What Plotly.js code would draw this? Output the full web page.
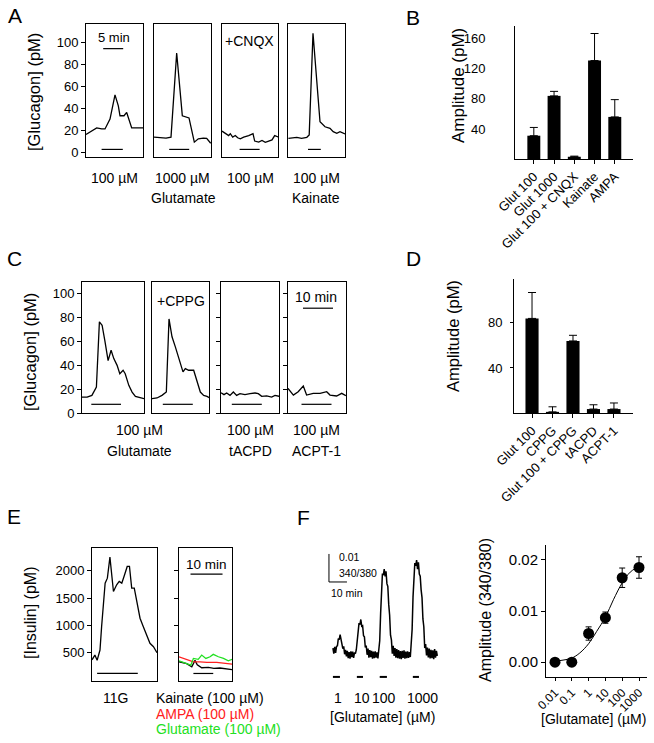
<!DOCTYPE html>
<html><head><meta charset="utf-8">
<script src="https://cdn.plot.ly/plotly-3.0.1.min.js"></script>
<style>html,body{margin:0;padding:0;background:#fff}#chart{width:654px;height:743px}</style>
</head><body><div id="chart"></div>
<script>
// ================= DATA =================
// Panel A – glucagon traces (time, min ; glucagon, pM)
const tA1 = [0,1.42,2.67,3.92,4.75,6,7.25,8.08,8.5,9.5,10.17,11.42,12.67,14.33];
const gA1 = [16,19,22,21,21,30,52,42,33,33,36,22,22,22];
const tA2 = [0,1.5,3,4.25,5.67,7.08,8.17,8.75,10.08,11.08,12.33,13.17,14.17];
const gA2 = [13.6,13,12.7,13.6,90,33,32,31,9,12,12.7,12.4,8];
const tA3 = [0,0.83,1.67,2.08,2.67,3.33,3.92,4.58,5.42,6.67,7.75,8.17,9.17,10,10.83,11.67,12.5,13.17,14.17];
const gA3 = [19,16.7,15,16.7,13.6,15,13,12,13.6,15,16.7,10,9,10.6,8.8,10,11,15,13.6];
const tA4 = [0.1,2.2,3.4,4.7,5.3,6.25,8.0,9.25,10.5,11.3,12.2,13,14.25];
const gA4 = [12.4,13.4,12.4,13.4,15.5,108,27.5,23,21.5,18.5,17,18.5,16.4];
const stimA = [[3.9,9.2],[3.8,8.8],[4.4,9.4],[5.0,8.2]];
const aConc = ['100 µM','1000 µM','100 µM','100 µM'];
const gluTicks = [0,20,40,60,80,100];

// Panel B – amplitudes
const catsB = ['Glut 100','Glut 1000','Glut 100 + CNQX','Kainate','AMPA'];
const ampB  = [31,84,3,131,56];
const errB  = [11,6,0.8,36,23];
const tickB = [40,80,120,160];

// Panel C – glucagon traces
const tC1 = [0,1.7,3.3,4.8,5.8,6.7,7.6,8.7,9.7,10.6,11.7,12.6,13.7,14.4,15.6,16.7,17.8,19.4,20.7];
const gC1 = [13.4,13.4,14.8,21.8,76.5,73.7,61,44,52.7,45.7,40,33,35.9,33,23.2,17.6,14,12.9,12];
const tC2 = [0,1.67,3.33,4.78,5.67,6.67,7.78,8.89,10.33,11.11,12.22,13.89,15,16.11,17.22,18.33,19.22];
const gC2 = [12,12.6,14.8,17.6,79,64,55.5,47,34.5,37.3,35.9,35.9,27.5,17.6,14.8,14,12.6];
const tC3 = [0,1,1.89,3,4.11,5.22,6.33,8,9.67,11.33,12.44,13.56,15.22,16.89,18,19.44];
const gC3 = [17,15.4,16.8,14.8,17.6,14.8,16.2,15.4,16.2,16.8,16.2,14,14.3,13.4,14.8,14];
const tC4 = [0,1.8,3.4,5.1,6.2,8.4,10.7,12.9,14,16.2,17.9,19.3];
const gC4 = [20.7,15,17.9,22.7,15.1,16.5,16.5,17.9,15.1,14.3,16.5,14.5];
const stimC = [[3.1,13],[3.6,13.6],[3.6,13.6],[4.5,14.5]];

// Panel D – amplitudes
const catsD = ['Glut 100','CPPG','Glut 100 + CPPG','tACPD','ACPT-1'];
const ampD  = [84,1,64,3.5,3.5];
const errD  = [23,4.5,5,3.8,5.4];
const tickD = [40,80];

// Panel E – insulin traces
const tE1 = [0,0.9,1.6,2.5,3.0,4.1,4.8,5.6,6.7,7.7,8.5,9.3,10.0,11.0,11.7,12.4,13.2,14.0,15.0,16.0,17.1,18.1,19.2,20.3];
const iE1 = [370,457,360,549,978,1774,1866,2252,1621,1744,1805,1774,1897,2080,2080,1682,1682,1407,1132,979,825,672,611,500];
const tKai = [0,2.4,4.0,5.0,5.7,7.1,9.2,10.9,12.8,14.9,16.6];
const iKai = [335,300,240,360,280,225,230,215,220,200,190];
const tAmpa = [0,2.4,4.5,6.6,8.7,11.8,14.9,16.6];
const iAmpa = [426,383,334,334,322,322,304,292];
const tGlu = [0,2.2,3.7,4.5,6.0,7.1,8.4,9.7,10.7,12.3,13.9,15.4,16.6];
const iGlu = [352,304,273,396,378,457,396,426,470,426,396,352,378];
const stimE = [[1.6,14.3],[4.5,10.7]];
const insTicks = [500,1000,1500,2000];

// Panel F – Ca2+ ratio trace (340/380), sampled every 0.5 min
const fDt = 0.5;
const ratioF = [0.0032,0.0012,0.0036,0.0015,0.0038,
  0.0040,0.0066,0.0062,0.0080,0.0058,0.0052,
  0.0030,0.0038,0.0010,0.0026,0.0002,0.0022,-0.0004,0.0018,-0.0006,0.0020,0.0000,0.0019,-0.0003,0.0016,0.0012,
  0.0026,0.0068,0.0084,0.0121,0.0116,0.0134,0.0110,0.0112,0.0076,0.0072,0.0034,0.0041,
  0.0008,0.0030,-0.0002,0.0025,0.0000,0.0022,-0.0006,0.0019,-0.0004,0.0020,-0.0002,0.0017,-0.0005,0.0021,
  0.0058,0.0155,0.0226,0.0298,0.0292,0.0314,0.0288,0.0306,0.0262,0.0252,0.0188,0.0150,0.0078,0.0061,
  0.0012,0.0040,0.0004,0.0032,-0.0002,0.0028,-0.0004,0.0025,-0.0006,0.0021,-0.0008,0.0022,-0.0003,0.0024,-0.0006,0.0019,-0.0004,0.0020,-0.0003,0.0018,0.0000,0.0036,
  0.0098,0.0214,0.0280,0.0336,0.0326,0.0346,0.0314,0.0338,0.0296,0.0289,0.0240,0.0212,0.0136,0.0108,0.0032,0.0046,
  0.0006,0.0034,-0.0001,0.0030,-0.0005,0.0026,-0.0004,0.0024,-0.0008,0.0028,-0.0002,0.0022,0.0004];
const stimF = [[0,3.9],[13.3,16.7],[26,30],[44.4,47.8]];
const concLabelsF = ['1','10','100','1000'];

// Panel F – dose response
const concF = [0.01,0.1,1,10,100,1000];
const ampF  = [0,0,0.0056,0.0087,0.0165,0.0185];
const errF  = [0,0,0.0013,0.0011,0.0019,0.0021];
const fitX  = [0.01,0.03,0.1,0.3,1,3,10,30,100,300,1000,1500];
const fitY  = [0.0002,0.0004,0.0008,0.0018,0.0036,0.006,0.0088,0.0122,0.0155,0.0176,0.0187,0.0189];
const doseTickVals = [0.01,0.1,1,10,100,1000];
const doseTickText = ['0.01','0.1','1','10','100','1000'];

// ================= LAYOUT HELPERS =================
const W = 654, H = 743;
const px = x => x / W, py = y => 1 - y / H;
const FONT = 'Arial, "Liberation Sans", sans-serif';
const traces = [];
const layout = {
  width: W, height: H, margin: {l:0, r:0, t:0, b:0},
  paper_bgcolor: '#fff', plot_bgcolor: 'rgba(0,0,0,0)', showlegend: false,
  font: {family: FONT, color: '#000', size: 13},
  shapes: [], annotations: []
};
const axN = (k, n) => k + 'axis' + (n === 1 ? '' : n);
const ref = (k, n) => k + (n === 1 ? '' : n);

function boxPanel(n, xpx, ypx, xr, yr, yt) {
  layout[axN('x', n)] = {domain: [px(xpx[0]), px(xpx[1])], range: xr, anchor: ref('y', n),
    showline: true, mirror: true, linecolor: '#000', linewidth: 1, ticks: '', showticklabels: false,
    showgrid: false, zeroline: false, fixedrange: true};
  layout[axN('y', n)] = {domain: [py(ypx[1]), py(ypx[0])], range: yr, anchor: ref('x', n),
    showline: true, mirror: true, linecolor: '#000', linewidth: 1, showgrid: false, zeroline: false,
    fixedrange: true, tickmode: 'array', tickvals: yt ? yt.vals : [], ticks: yt ? 'outside' : '',
    ticklen: 4, tickwidth: 1, tickcolor: '#000', showticklabels: !!(yt && yt.labels),
    tickfont: {family: FONT, size: 13, color: '#000'}};
}
function line(n, x, y, color) {
  traces.push({type: 'scatter', mode: 'lines', x: x, y: y, xaxis: ref('x', n), yaxis: ref('y', n),
    line: {color: color || '#000', width: 1.3}, hoverinfo: 'skip'});
}
function hbar(n, x0, x1, y, w) {
  layout.shapes.push({type: 'line', xref: ref('x', n), yref: ref('y', n), x0: x0, x1: x1, y0: y, y1: y,
    line: {color: '#000', width: w || 1.2}});
}
function vbar(n, x, y0, y1) {
  layout.shapes.push({type: 'line', xref: ref('x', n), yref: ref('y', n), x0: x, x1: x, y0: y0, y1: y1,
    line: {color: '#000', width: 1}});
}
function txt(x, y, text, opt) {
  const o = Object.assign({size: 14, color: '#000', xanchor: 'center', angle: 0}, opt || {});
  layout.annotations.push({xref: 'paper', yref: 'paper', x: px(x), y: py(y), text: text, showarrow: false,
    xanchor: o.xanchor, yanchor: 'middle', textangle: o.angle,
    font: {family: FONT, size: o.size, color: o.color}});
}

// ================= PANEL A =================
const boxesA = [[86,143],[154,211],[222,278],[288,345]];
const tracesA = [[tA1,gA1],[tA2,gA2],[tA3,gA3],[tA4,gA4]];
boxesA.forEach((b, i) => {
  const n = i + 1;
  boxPanel(n, b, [24,157], [0, (b[1]-b[0])/4], [-4.5,116.4], i === 0 ? {vals: gluTicks, labels: true} : null);
  line(n, tracesA[i][0], tracesA[i][1]);
  hbar(n, stimA[i][0], stimA[i][1], 2.4);
  txt((b[0]+b[1])/2, 177.5, aConc[i]);
});
hbar(1, 4.3, 9.3, 94);
txt(114, 38, '5 min', {size: 13});
txt(249, 41, '+CNQX', {size: 14});
txt(183, 197.5, 'Glutamate');
txt(316, 197.5, 'Kainate');
txt(34, 92, '[Glucagon] (pM)', {size: 16.5, angle: -90});
txt(15, 15, 'A', {size: 21});

// ================= PANEL B =================
function barPanel(n, xpx, ypx, xr, yr, cats, vals, errs, tvals, yopt) {
  layout[axN('x', n)] = {domain: [px(xpx[0]), px(xpx[1])], type: 'category', range: xr, anchor: ref('y', n),
    showline: true, linecolor: '#000', linewidth: 1, ticks: 'outside', ticklen: 4, tickcolor: '#000',
    tickangle: -45, tickfont: {family: FONT, size: 13, color: '#000'}, showgrid: false, zeroline: false, fixedrange: true};
  layout[axN('y', n)] = Object.assign({domain: [py(ypx[1]), py(ypx[0])], range: yr, anchor: ref('x', n),
    showline: true, linecolor: '#000', linewidth: 1, ticks: 'outside', ticklen: 3, tickcolor: '#000',
    tickmode: 'array', tickvals: tvals, tickfont: {family: FONT, size: 13, color: '#000'},
    showgrid: false, zeroline: false, fixedrange: true}, yopt || {});
  traces.push({type: 'bar', x: cats, y: vals, width: 0.64, xaxis: ref('x', n), yaxis: ref('y', n),
    marker: {color: '#000', line: {width: 0}}, hoverinfo: 'skip',
    error_y: {type: 'data', symmetric: false, array: errs, arrayminus: errs.map(() => 0),
      color: '#000', thickness: 1, width: 4}});
}
barPanel(5, [515,633], [26,159], [-0.93,4.9], [0,177], catsB, ampB, errB, tickB,
  {ticks: '', ticklabelstandoff: 26});
txt(458, 85, 'Amplitude (pM)', {size: 17, angle: -90});
txt(413, 18, 'B', {size: 21});

// ================= PANEL C =================
const boxesC = [[82,144],[152,209],[221,279],[288,346]];
const tracesC = [[tC1,gC1],[tC2,gC2],[tC3,gC3],[tC4,gC4]];
boxesC.forEach((b, i) => {
  const n = 6 + i;
  const yt = i === 0 ? {vals: gluTicks, labels: true} : (i >= 2 ? {vals: gluTicks, labels: false} : null);
  boxPanel(n, b, [282,413], [0, (b[1]-b[0])/3], [0,110], yt);
  line(n, tracesC[i][0], tracesC[i][1]);
  hbar(n, stimC[i][0], stimC[i][1], 7.3);
});
hbar(9, 5, 15, 88);
txt(316, 297, '10 min', {size: 14});
txt(180.5, 301, '+CPPG', {size: 14});
txt(139, 430, '100 µM'); txt(139, 451, 'Glutamate');
txt(250, 430, '100 µM'); txt(250, 451, 'tACPD');
txt(316, 430, '100 µM'); txt(316, 451, 'ACPT-1');
txt(30, 352, '[Glucagon] (pM)', {size: 16.5, angle: -90});
txt(14, 259, 'C', {size: 21});

// ================= PANEL D =================
barPanel(10, [514,633], [279,413], [-0.88,4.93], [0,119], catsD, ampD, errD, tickD,
  {ticklabelstandoff: 5});
txt(453, 336, 'Amplitude (pM)', {size: 16.5, angle: -90});
txt(413, 258, 'D', {size: 21});

// ================= PANEL E =================
boxPanel(11, [92,157], [548,681], [0,20.3], [-18,2418], {vals: insTicks, labels: true});
boxPanel(12, [179,232], [548,681], [0,16.56], [-18,2418], {vals: insTicks, labels: false});
line(11, tE1, iE1);
line(12, tKai, iKai, '#000');
line(12, tAmpa, iAmpa, '#ff2020');
line(12, tGlu, iGlu, '#22e022');
hbar(11, stimE[0][0], stimE[0][1], 120);
hbar(12, stimE[1][0], stimE[1][1], 120);
hbar(12, 3.6, 13.6, 1939);
txt(206, 564, '10 min', {size: 13.5});
txt(115, 697.5, '11G');
txt(154, 697.5, 'Kainate (100 µM)', {xanchor: 'left'});
txt(154, 713.5, 'AMPA (100 µM)', {xanchor: 'left', color: '#ff2020'});
txt(154, 729, 'Glutamate (100 µM)', {xanchor: 'left', color: '#22e022'});
txt(30, 613, '[Insulin] (pM)', {size: 16, angle: -90});
txt(14, 516, 'E', {size: 21});

// ================= PANEL F (trace) =================
layout.xaxis13 = {domain: [px(325), px(442)], range: [-4.4, 60.6], visible: false, anchor: 'y13', fixedrange: true};
layout.yaxis13 = {domain: [py(680), py(545)], range: [-0.0082, 0.04], visible: false, anchor: 'x13', fixedrange: true};
traces.push({type: 'scatter', mode: 'lines', x0: 0, dx: fDt, y: ratioF, xaxis: 'x13', yaxis: 'y13',
  line: {color: '#000', width: 1.5}, hoverinfo: 'skip'});
stimF.forEach(s => hbar(13, s[0], s[1], -0.0071, 2));
vbar(13, -2.2, 0.0268, 0.0368);
hbar(13, -2.2, 7.8, 0.0268, 1);
txt(336.5, 557, '0.01', {size: 10.5, xanchor: 'left'});
txt(336.5, 573, '340/380', {size: 10.5, xanchor: 'left'});
txt(329, 593, '10 min', {size: 10.5, xanchor: 'left'});
const fLabX = [338, 362, 384, 422];
concLabelsF.forEach((c, i) => txt(fLabX[i], 698, c));
txt(382.5, 717, '[Glutamate] (µM)');
txt(303, 517, 'F', {size: 21});

// ================= PANEL F (dose response) =================
layout.xaxis14 = {domain: [px(546), px(647)], type: 'log', range: [-2.536, 3.476], anchor: 'y14',
  showline: true, linecolor: '#000', linewidth: 1, ticks: 'outside', ticklen: 3, tickcolor: '#000',
  tickmode: 'array', tickvals: doseTickVals, ticktext: doseTickText, tickangle: -45,
  tickfont: {family: FONT, size: 12, color: '#000'}, showgrid: false, zeroline: false, fixedrange: true};
layout.yaxis14 = {domain: [py(677), py(545)], range: [-0.0029, 0.0229], anchor: 'x14',
  showline: true, linecolor: '#000', linewidth: 1, ticks: 'outside', ticklen: 4, tickcolor: '#000',
  tickmode: 'array', tickvals: [0, 0.01, 0.02], ticktext: ['0.00','0.01','0.02'],
  tickfont: {family: FONT, size: 15, color: '#000'}, showgrid: false, zeroline: false, fixedrange: true};
traces.push({type: 'scatter', mode: 'lines', x: fitX, y: fitY, xaxis: 'x14', yaxis: 'y14',
  line: {color: '#000', width: 1, shape: 'spline', smoothing: 1}, hoverinfo: 'skip'});
traces.push({type: 'scatter', mode: 'markers', x: concF, y: ampF, xaxis: 'x14', yaxis: 'y14',
  marker: {color: '#000', size: 11}, cliponaxis: false, hoverinfo: 'skip',
  error_y: {type: 'data', array: errF, color: '#000', thickness: 1, width: 3}});
txt(485, 610, 'Amplitude (340/380)', {size: 16, angle: -90});
txt(593, 719, '[Glutamate] (µM)');

Plotly.newPlot('chart', traces, layout, {staticPlot: true, displayModeBar: false});
</script>
</body></html>
